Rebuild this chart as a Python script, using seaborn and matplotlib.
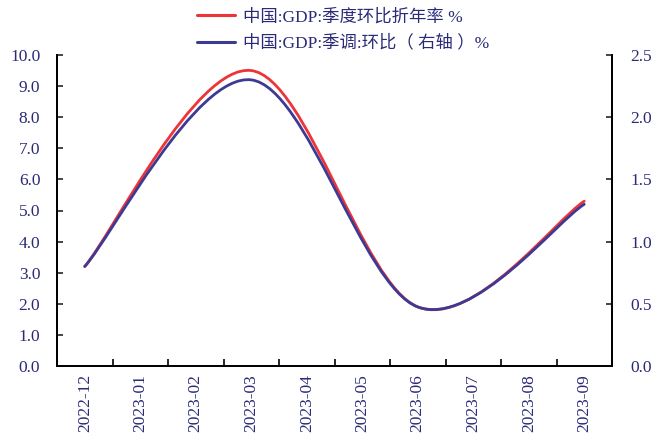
import numpy as np
import seaborn as sns
import matplotlib
matplotlib.use('Agg')
import matplotlib.pyplot as plt
from matplotlib.path import Path
from matplotlib.patches import PathPatch
from matplotlib.lines import Line2D

months = ['2022-12', '2023-01', '2023-02', '2023-03', '2023-04',
          '2023-05', '2023-06', '2023-07', '2023-08', '2023-09']
quarter_pos = [0, 3, 6, 9]  # quarterly observations: 2022-12, 2023-03, 2023-06, 2023-09
gdp_annualized = [3.2, 9.5, 1.9, 5.3]   # left axis
gdp_qoq = [0.8, 2.3, 0.475, 1.3]        # right axis

red = '#EE3437'
navy = '#3D3A94'
text_col = '#2A2A78'

sns.set_theme(style='ticks')
plt.rcParams['font.family'] = ['Liberation Serif', 'Noto Sans CJK SC']
plt.rcParams['axes.unicode_minus'] = False


def smooth_path(xs, ys):
    # Excel-style smoothed line: cubic bezier through each point
    pts = np.column_stack([xs, ys]).astype(float)
    ext = np.vstack([pts[0], pts, pts[-1]])
    verts = [tuple(pts[0])]
    codes = [Path.MOVETO]
    for i in range(len(pts) - 1):
        p0, p1, p2, p3 = ext[i], ext[i + 1], ext[i + 2], ext[i + 3]
        c1 = p1 + (p2 - p0) / 6
        c2 = p2 - (p3 - p1) / 6
        verts += [tuple(c1), tuple(c2), tuple(p2)]
        codes += [Path.CURVE4] * 3
    return Path(verts, codes)


fig = plt.figure(figsize=(6.56, 4.38), dpi=100)
ax = fig.add_axes([57 / 656, 1 - 366 / 438, (612 - 57) / 656, (366 - 55) / 438])
ax2 = ax.twinx()

ax.add_patch(PathPatch(smooth_path(quarter_pos, gdp_annualized), fill=False,
                       edgecolor=red, lw=2.0, capstyle='round', zorder=3))
ax2.add_patch(PathPatch(smooth_path(quarter_pos, gdp_qoq), fill=False,
                        edgecolor=navy, lw=2.0, capstyle='round', zorder=3))

ax.set_xlim(-0.5, len(months) - 0.5)
ax.set_ylim(0, 10)
ax2.set_ylim(0, 2.5)
ax.set_yticks(np.arange(0, 10.1, 1.0))
ax.set_yticklabels([f'{v:.1f}' for v in np.arange(0, 10.1, 1.0)])
ax2.set_yticks(np.arange(0, 2.51, 0.5))
ax2.set_yticklabels([f'{v:.1f}' for v in np.arange(0, 2.51, 0.5)])

ax.set_xticks(np.arange(-0.5, len(months), 1.0))
ax.set_xticklabels([])
ax.set_xticks(np.arange(len(months)), minor=True)
ax.set_xticklabels(months, minor=True, rotation=90)
ax.tick_params(axis='x', which='minor', length=0, pad=6, labelsize=12.5, labelcolor=text_col)
ax.tick_params(axis='x', which='major', direction='in', length=5, width=1.2, color='black')
ax.tick_params(axis='y', direction='in', length=4, width=1.2, labelsize=12.5,
               labelcolor=text_col, pad=12)
ax2.tick_params(axis='y', direction='in', length=4, width=1.2, labelsize=12.5,
                labelcolor=text_col, pad=13)

for a in (ax, ax2):
    a.spines['top'].set_visible(False)
    for s in ('left', 'right', 'bottom'):
        a.spines[s].set_linewidth(1.3)
        a.spines[s].set_color('black')
    a.grid(False)

handles = [Line2D([], [], color=red, lw=2.2), Line2D([], [], color=navy, lw=2.2)]
labels = ['中国:GDP:季度环比折年率 %', '中国:GDP:季调:环比（ 右轴 ）%']
leg = fig.legend(handles, labels, loc='upper left', bbox_to_anchor=(197 / 656, 1 - 9 / 438),
                 frameon=False, fontsize=12.5, handlelength=2.2, handletextpad=0.45,
                 labelspacing=0.55, borderpad=0, borderaxespad=0)
for t in leg.get_texts():
    t.set_color(text_col)

fig.savefig('out.png', dpi=100)
